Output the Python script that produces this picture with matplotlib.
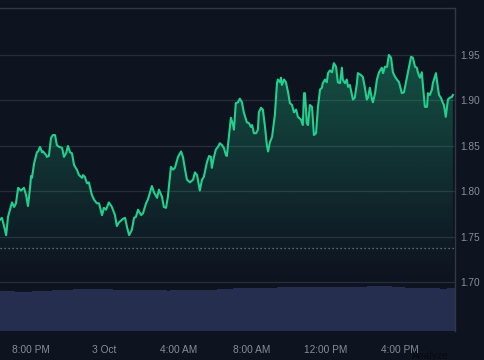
import datetime as dt
import numpy as np
import matplotlib
matplotlib.use("Agg")
import matplotlib.pyplot as plt
import matplotlib.dates as mdates
from matplotlib.patches import PathPatch
from matplotlib.ticker import FuncFormatter, FixedLocator

# ---------------- data ----------------
START = dt.datetime(2024, 10, 2, 18, 20)
END_MINUTE = 1480

price_minutes = [
    0, 6, 11, 20, 26, 39, 46, 52, 59, 68, 78, 85, 91, 98, 101, 104, 111, 120, 124, 130,
    137, 140, 150, 153, 159, 166, 172, 179, 185, 192, 202, 208, 215, 221, 228, 234, 241, 250, 257, 267,
    270, 276, 283, 289, 299, 306, 315, 322, 332, 338, 345, 354, 364, 374, 380, 387, 400, 407, 413, 420,
    429, 436, 442, 449, 459, 465, 475, 481, 488, 494, 501, 511, 517, 527, 533, 540, 546, 556, 563, 569,
    579, 589, 595, 602, 608, 618, 628, 634, 641, 650, 657, 663, 673, 680, 686, 689, 696, 702, 709, 715,
    722, 728, 735, 738, 741, 751, 758, 761, 767, 774, 780, 787, 793, 803, 810, 816, 820, 826, 833, 839,
    842, 849, 855, 862, 868, 872, 878, 885, 894, 901, 904, 911, 914, 917, 924, 930, 937, 943, 950, 956,
    963, 969, 979, 985, 989, 992, 998, 1002, 1008, 1015, 1021, 1028, 1034, 1041, 1047, 1050, 1057, 1063, 1067, 1073,
    1080, 1086, 1093, 1099, 1106, 1112, 1115, 1122, 1128, 1132, 1138, 1148, 1154, 1161, 1164, 1174, 1180, 1187, 1193, 1197,
    1203, 1210, 1213, 1220, 1226, 1233, 1242, 1246, 1252, 1259, 1265, 1272, 1278, 1285, 1291, 1298, 1304, 1307, 1314, 1324,
    1330, 1337, 1343, 1350, 1356, 1359, 1366, 1372, 1376, 1382, 1389, 1392, 1398, 1405, 1408, 1418, 1424, 1428, 1434, 1441,
    1444, 1450, 1457, 1463, 1470, 1473,
]
price_values = [
    1.769, 1.771, 1.765, 1.752, 1.772, 1.788, 1.783, 1.787, 1.804, 1.801, 1.804, 1.796, 1.784, 1.805, 1.817, 1.815, 1.831, 1.843, 1.844, 1.849,
    1.843, 1.844, 1.840, 1.838, 1.839, 1.859, 1.862, 1.862, 1.851, 1.849, 1.848, 1.838, 1.842, 1.850, 1.843, 1.842, 1.829, 1.824, 1.818, 1.815,
    1.818, 1.816, 1.809, 1.810, 1.796, 1.791, 1.787, 1.787, 1.774, 1.782, 1.780, 1.788, 1.783, 1.774, 1.762, 1.766, 1.770, 1.771, 1.761, 1.752,
    1.758, 1.771, 1.772, 1.780, 1.774, 1.776, 1.787, 1.791, 1.799, 1.806, 1.799, 1.793, 1.802, 1.794, 1.783, 1.782, 1.794, 1.827, 1.824, 1.826,
    1.838, 1.844, 1.838, 1.824, 1.813, 1.810, 1.813, 1.821, 1.818, 1.801, 1.813, 1.816, 1.832, 1.839, 1.838, 1.826, 1.838, 1.846, 1.849, 1.853,
    1.851, 1.848, 1.840, 1.839, 1.849, 1.881, 1.873, 1.868, 1.897, 1.898, 1.902, 1.898, 1.887, 1.876, 1.875, 1.871, 1.873, 1.864, 1.864, 1.868,
    1.887, 1.892, 1.890, 1.871, 1.851, 1.844, 1.854, 1.860, 1.884, 1.919, 1.923, 1.920, 1.925, 1.917, 1.923, 1.920, 1.909, 1.897, 1.895, 1.887,
    1.890, 1.882, 1.879, 1.873, 1.908, 1.908, 1.875, 1.873, 1.895, 1.893, 1.862, 1.864, 1.892, 1.912, 1.914, 1.919, 1.923, 1.920, 1.930, 1.933,
    1.931, 1.941, 1.937, 1.920, 1.919, 1.936, 1.923, 1.919, 1.923, 1.915, 1.917, 1.901, 1.903, 1.919, 1.930, 1.928, 1.926, 1.914, 1.901, 1.903,
    1.914, 1.901, 1.898, 1.908, 1.923, 1.931, 1.936, 1.930, 1.937, 1.937, 1.950, 1.947, 1.931, 1.926, 1.923, 1.920, 1.912, 1.908, 1.909, 1.926,
    1.936, 1.948, 1.947, 1.937, 1.936, 1.931, 1.925, 1.931, 1.915, 1.893, 1.893, 1.908, 1.906, 1.912, 1.919, 1.930, 1.915, 1.906, 1.903, 1.897,
    1.895, 1.882, 1.901, 1.903, 1.904, 1.906,
]

volume_start_minutes = [0, 49, 104, 169, 237, 367, 543, 553, 706, 758, 901, 1193, 1275, 1317, 1431, 1454]
volume_values = [40.0, 39.3, 40.0, 41.0, 41.7, 41.0, 40.3, 41.0, 41.7, 42.7, 43.7, 44.7, 43.7, 43.0, 42.3, 43.0]

reference_price = 1.738
y_ticks = [1.70, 1.75, 1.80, 1.85, 1.90, 1.95]
y_limits = (1.6467, 2.0016)

# ---------------- style ----------------
BG = "#0e1320"
GRID = "#272d3b"
SPINE = "#323845"
LINE = "#22d08e"
VOL = "#262e4f"
TXT = "#878c98"

plt.rcParams["font.family"] = ["Liberation Sans", "DejaVu Sans"]

fig = plt.figure(figsize=(4.85, 3.6), dpi=100, facecolor=BG)
rect = [0.0, (360 - 331) / 360, 455 / 485, (331 - 8) / 360]

to_num = lambda m: mdates.date2num(START + dt.timedelta(minutes=m))
x = np.array([to_num(m) for m in price_minutes])
y = np.array(price_values)
x0, x1 = to_num(0), to_num(END_MINUTE)

# volume axes (behind)
axv = fig.add_axes(rect, facecolor=BG)
vstarts = [to_num(m) for m in volume_start_minutes]
vends = vstarts[1:] + [x1]
widths = [e - s for s, e in zip(vstarts, vends)]
axv.bar(vstarts, volume_values, width=widths, align="edge", color=VOL, linewidth=0)
axv.set_xlim(x0, x1)
axv.set_ylim(0, max(volume_values) * 7.25)
axv.axis("off")

# price axes (front)
ax = fig.add_axes(rect)
ax.patch.set_alpha(0)
for yt in y_ticks:
    ax.axhline(yt, color=GRID, lw=0.9, zorder=0)
ax.axhline(reference_price, color="#7d828d", lw=0.9, ls=(0, (1, 2.2)), zorder=1)

# gradient fill under line
poly = ax.fill_between(x, y, y_limits[0], color="none", lw=0)
path = poly.get_paths()[0]
clip = PathPatch(path, transform=ax.transData, facecolor="none", edgecolor="none")
ax.add_patch(clip)
n = 256
yy = np.linspace(y_limits[0], y_limits[1], n)
alpha = np.clip((yy - 1.70) / (1.95 - 1.70), 0, 1) ** 1.1 * 0.33
rgba = np.zeros((n, 1, 4))
rgba[:, 0, 0] = 0x22 / 255
rgba[:, 0, 1] = 0xd0 / 255
rgba[:, 0, 2] = 0x8e / 255
rgba[:, 0, 3] = alpha
im = ax.imshow(rgba, extent=[x0, x1, y_limits[0], y_limits[1]], origin="lower",
               aspect="auto", zorder=1, interpolation="bilinear")
im.set_clip_path(clip)

ax.plot(x, y, color=LINE, lw=1.5, zorder=3, solid_joinstyle="round")

ax.set_xlim(x0, x1)
ax.set_ylim(*y_limits)

for side in ["left", "bottom"]:
    ax.spines[side].set_visible(False)
for side in ["top", "right"]:
    ax.spines[side].set_color(SPINE)
    ax.spines[side].set_linewidth(1.0)

ax.yaxis.tick_right()
ax.yaxis.set_major_locator(FixedLocator(y_ticks))
ax.yaxis.set_major_formatter(FuncFormatter(lambda v, p: f"{v:.2f}"))
ax.tick_params(axis="y", length=0, pad=3.5, labelsize=7.3, labelcolor=TXT)

ax.xaxis.set_major_locator(mdates.HourLocator(byhour=[0, 4, 8, 12, 16, 20]))


def fmt_x(v, pos):
    d = mdates.num2date(v)
    if d.hour == 0:
        return f"{d.day} {d.strftime('%b')}"
    h = d.hour % 12
    if h == 0:
        h = 12
    return f"{h}:{d.minute:02d} {'AM' if d.hour < 12 else 'PM'}"


ax.xaxis.set_major_formatter(FuncFormatter(fmt_x))
ax.tick_params(axis="x", length=0, pad=10, labelsize=7.3, labelcolor=TXT)

fig.text(430 / 485, (360 - 351) / 360, "Analyze", color="#07090d", fontsize=7.5,
         ha="center", va="top")

fig.savefig("out.png", dpi=100, facecolor=BG)
